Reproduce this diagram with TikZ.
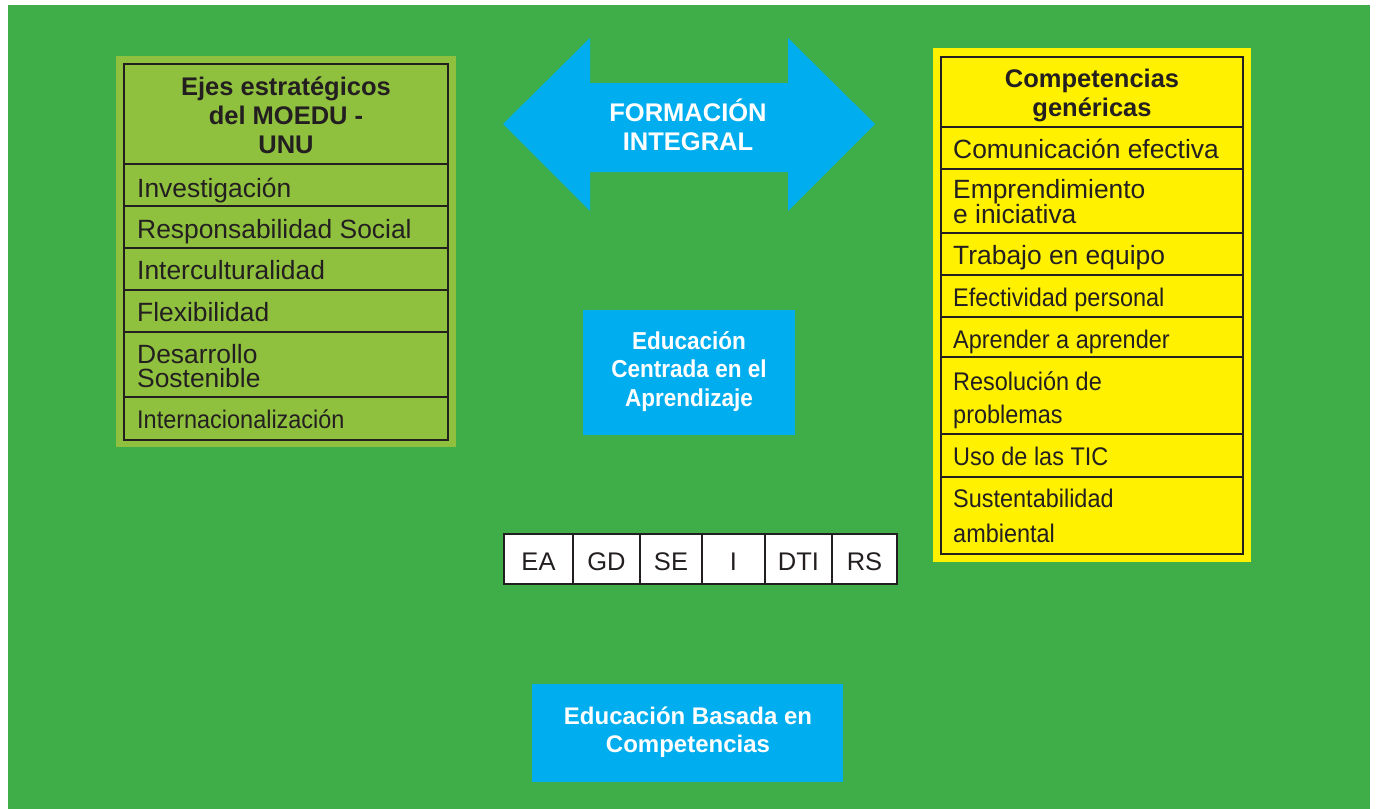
\documentclass[tikz,border=0pt]{standalone}
\usepackage{fontspec}
\setmainfont{Liberation Sans}
\newfontfamily\condfont[FakeStretch=0.92]{Liberation Sans}
\definecolor{bggreen}{RGB}{63,174,73}
\definecolor{lightgreen}{RGB}{143,193,62}
\definecolor{boxyellow}{RGB}{255,241,0}
\definecolor{boxcyan}{RGB}{0,174,239}
\definecolor{ink}{RGB}{35,31,32}
\tikzset{
  item/.style={anchor=base west, inner sep=0pt, text=ink, font=\fontsize{26.4}{26}\selectfont},
  citem/.style={anchor=base west, inner sep=0pt, text=ink, font=\condfont\fontsize{25.5}{26}\selectfont},
  head/.style={anchor=base, inner sep=0pt, text=ink, font=\bfseries\fontsize{25.5}{26}\selectfont},
  wtext/.style={anchor=base, inner sep=0pt, text=white, font=\bfseries\fontsize{25.5}{26}\selectfont},
  wctext/.style={anchor=base, inner sep=0pt, text=white, font=\condfont\bfseries\fontsize{24.5}{26}\selectfont},
  cell/.style={anchor=base, inner sep=0pt, text=ink, font=\fontsize{25.5}{26}\selectfont},
  rule/.style={draw=ink, line width=2pt},
}
\begin{document}
\begin{tikzpicture}[x=1pt,y=-1pt]
\useasboundingbox (0,0) rectangle (1377,809);
\fill[bggreen] (8,5) rectangle (1370,809);

% ---------- left table ----------
\fill[lightgreen] (116,56) rectangle (456,447);
\draw[rule] (124,64) rectangle (448,440);
\foreach \yy in {164,206,248,290,332,397} \draw[rule] (124,\yy) -- (448,\yy);
\node[head] (lh1) at (286,95) {Ejes estratégicos};
\node[head] (lh2) at (286,124) {del MOEDU -};
\node[head] (lh3) at (286,153) {UNU};
\node[item] (l1) at (137,197) {Investigación};
\node[item] (l2) at (137,238) {Responsabilidad Social};
\node[item] (l3) at (137,279) {Interculturalidad};
\node[item] (l4) at (137,321) {Flexibilidad};
\node[item] (l5a) at (137,363) {Desarrollo};
\node[item] (l5b) at (137,387) {Sostenible};
\node[citem] (l6) at (137,428) {Internacionalización};

% ---------- right table ----------
\fill[boxyellow] (933,48) rectangle (1251,562);
\draw[rule] (941,57) rectangle (1243,554);
\foreach \yy in {127,169,233,275,317,357,434,477} \draw[rule] (941,\yy) -- (1243,\yy);
\node[head] (rh1) at (1092,87) {Competencias};
\node[head] (rh2) at (1092,116) {genéricas};
\node[item] (r1) at (953,158) {Comunicación efectiva};
\node[item] (r2a) at (953,198) {Emprendimiento};
\node[item] (r2b) at (953,223) {e iniciativa};
\node[item] (r3) at (953,264) {Trabajo en equipo};
\node[citem] (r4) at (953,306) {Efectividad personal};
\node[citem] (r5) at (953,348) {Aprender a aprender};
\node[citem] (r6a) at (953,390) {Resolución de};
\node[citem] (r6b) at (953,423) {problemas};
\node[citem] (r7) at (953,465) {Uso de las TIC};
\node[citem] (r8a) at (953,507) {Sustentabilidad};
\node[citem] (r8b) at (953,542) {ambiental};

% ---------- double arrow ----------
\fill[boxcyan] (503,124) -- (590,38) -- (590,83) -- (788,83) -- (788,38) -- (875,124)
  -- (788,211) -- (788,172) -- (590,172) -- (590,211) -- cycle;
\node[wtext] (a1) at (688,121) {FORMACIÓN};
\node[wtext] (a2) at (688,150) {INTEGRAL};

% ---------- centre box ----------
\fill[boxcyan] (583,310) rectangle (795,435);
\node[wctext] (c1) at (689,349) {Educación};
\node[wctext] (c2) at (689,377) {Centrada en el};
\node[wctext] (c3) at (689,406) {Aprendizaje};

% ---------- small table ----------
\draw[rule, fill=white] (504,534) rectangle (897,584);
\foreach \xx in {573,640,702,765,832} \draw[rule] (\xx,534) -- (\xx,584);
\node[cell] (t1) at (538.5,570) {EA};
\node[cell] (t2) at (606.5,570) {GD};
\node[cell] (t3) at (671,570) {SE};
\node[cell] (t4) at (733.5,570) {I};
\node[cell] (t5) at (798.5,570) {DTI};
\node[cell] (t6) at (864.5,570) {RS};

% ---------- bottom box ----------
\fill[boxcyan] (532,684) rectangle (843,782);
\node[wctext, font=\bfseries\fontsize{24}{26}\selectfont] (b1) at (688,724) {Educación Basada en};
\node[wctext, font=\bfseries\fontsize{24}{26}\selectfont] (b2) at (688,752) {Competencias};
\end{tikzpicture}
\end{document}
